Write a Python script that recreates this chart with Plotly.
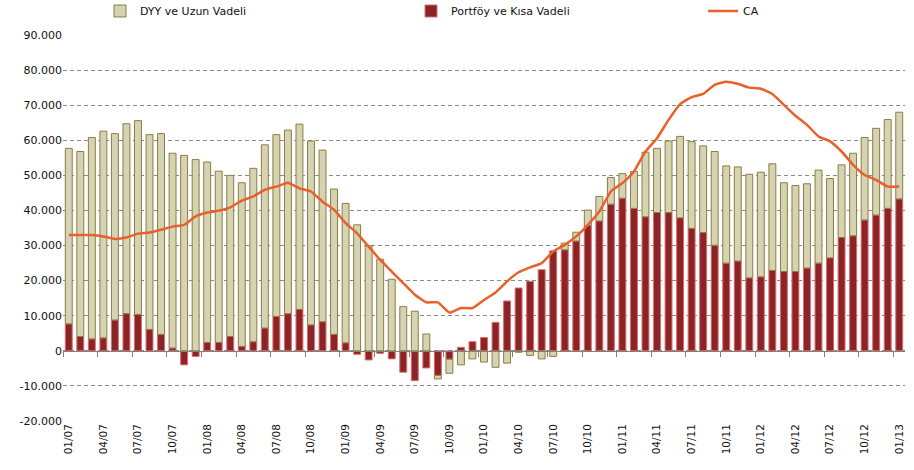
import plotly.graph_objects as go

months = []
for y in range(7, 14):
    for m in range(1, 13):
        if y == 13 and m > 1:
            break
        months.append(f"{m:02d}/{y:02d}")

portfoy = [7.7, 4.1, 3.4, 3.7, 8.8, 10.6, 10.4, 6.1, 4.7, 0.8, -4.0, -1.6,
           2.4, 2.4, 4.1, 1.3, 2.6, 6.5, 9.8, 10.6, 11.8, 7.4, 8.3, 4.7,
           2.3, -1.0, -2.6, -0.7, -2.3, -6.1, -8.5, -4.9, -7.0, -2.4, 1.0, 2.6,
           3.8, 8.1, 14.2, 17.9, 19.8, 23.1, 28.5, 28.8, 31.3, 35.7, 37.0, 41.8,
           43.5, 40.6, 38.2, 39.4, 39.4, 37.9, 34.9, 33.7, 30.1, 25.0, 25.6, 20.8,
           21.1, 22.9, 22.6, 22.6, 23.6, 25.0, 26.5, 32.3, 32.8, 37.3, 38.7, 40.6,
           43.3]
dyy = [50.0, 52.7, 57.4, 58.9, 53.1, 54.1, 55.2, 55.5, 57.2, 55.5, 55.7, 54.5,
       51.4, 48.8, 45.9, 46.6, 49.4, 52.2, 51.8, 52.3, 52.8, 52.4, 48.9, 41.4,
       39.7, 35.9, 29.9, 26.1, 20.4, 12.6, 11.3, 4.8, -1.0, -4.0, -4.0, -2.3,
       -3.2, -4.7, -3.5, -0.4, -1.3, -2.3, -1.6, 1.9, 2.5, 4.4, 7.0, 7.6,
       7.0, 10.5, 18.4, 18.3, 20.4, 23.2, 24.7, 24.7, 26.7, 27.7, 26.8, 29.5,
       29.8, 30.4, 25.3, 24.5, 24.0, 26.5, 22.6, 20.7, 23.5, 23.5, 24.7, 25.3,
       24.7]
ca = [33.0, 33.0, 33.0, 32.6, 31.9, 32.3, 33.4, 33.7, 34.5, 35.4, 35.9, 38.3,
      39.4, 39.9, 40.9, 42.8, 44.0, 45.9, 46.8, 47.9, 46.3, 45.4, 42.5, 40.2,
      36.4, 33.5, 29.7, 25.9, 22.6, 19.3, 16.0, 13.8, 13.8, 10.9, 12.2, 12.2,
      14.5, 16.6, 19.8, 22.4, 23.8, 25.0, 28.3, 30.2, 32.6, 35.9, 39.7, 45.4,
      47.8, 51.1, 56.8, 60.6, 65.8, 70.3, 72.3, 73.2, 75.8, 76.7, 76.1, 75.0,
      74.7, 73.2, 70.1, 67.0, 64.4, 61.1, 59.7, 56.8, 53.0, 50.1, 48.7, 46.8,
      46.8]

portfoy = [v * 1000 for v in portfoy]
dyy = [v * 1000 for v in dyy]
ca = [v * 1000 for v in ca]

ytick_vals = list(range(-20000, 90001, 10000))
ytick_text = ["-20.000", "-10.000", "0", "10.000", "20.000", "30.000", "40.000",
              "50.000", "60.000", "70.000", "80.000", "90.000"]

x = list(range(len(months)))
xtick_vals = x[::3]
xtick_text = months[::3]
xrange = [-0.5, len(x) - 0.5]

font = "DejaVu Sans"

fig = go.Figure()
fig.add_trace(go.Bar(x=x, y=portfoy, name="Portföy ve Kısa Vadeli", legend="legend2",
                     marker=dict(color="#8B2427", line=dict(color="#E06A6A", width=1))))
fig.add_trace(go.Bar(x=x, y=dyy, name="DYY ve Uzun Vadeli", legend="legend",
                     marker=dict(color="#D6D2B4", line=dict(color="#8C7E3C", width=1))))
fig.add_trace(go.Scatter(x=x, y=ca, name="CA", mode="lines", legend="legend3",
                         line=dict(color="#E8602A", width=2.5, shape="spline", smoothing=0.4),
                         xaxis="x2"))

leg = dict(orientation="h", yref="container", y=1 - 11 / 470, yanchor="middle",
           xref="container", xanchor="left",
           font=dict(size=11), bgcolor="rgba(0,0,0,0)")

fig.update_layout(
    width=914, height=470,
    margin=dict(l=63, r=9, t=35, b=49, autoexpand=False),
    plot_bgcolor="white", paper_bgcolor="white",
    barmode="relative", bargap=0.4,
    font=dict(family=font, size=11, color="#111"),
    showlegend=True,
    legend=dict(leg, x=100 / 914),
    legend2=dict(leg, x=411 / 914),
    legend3=dict(leg, x=703 / 914),
    xaxis=dict(range=xrange, tickvals=xtick_vals, ticktext=xtick_text,
               tickangle=-90, showgrid=False, showline=False, ticks="",
               zeroline=False, tickfont=dict(size=10.5), automargin=False),
    xaxis2=dict(range=xrange, overlaying="x", anchor="free", position=20000 / 110000,
                showticklabels=False, showline=True, linecolor="#808080", linewidth=1,
                ticks="", showgrid=False, zeroline=False, automargin=False,
                minor=dict(tick0=-0.5, dtick=3, ticks="outside", ticklen=5,
                           tickcolor="#808080", showgrid=False)),
    yaxis=dict(range=[-20000, 90000], tickvals=ytick_vals, ticktext=ytick_text,
               showgrid=True, gridcolor="#8a8a8a", griddash="4px,3px", gridwidth=1,
               zeroline=False, showline=False, ticks="", tickfont=dict(size=11),
               automargin=False),
)

fig.write_html("out.html", config={"displayModeBar": False},
               post_script="document.body.style.margin='0px';")
